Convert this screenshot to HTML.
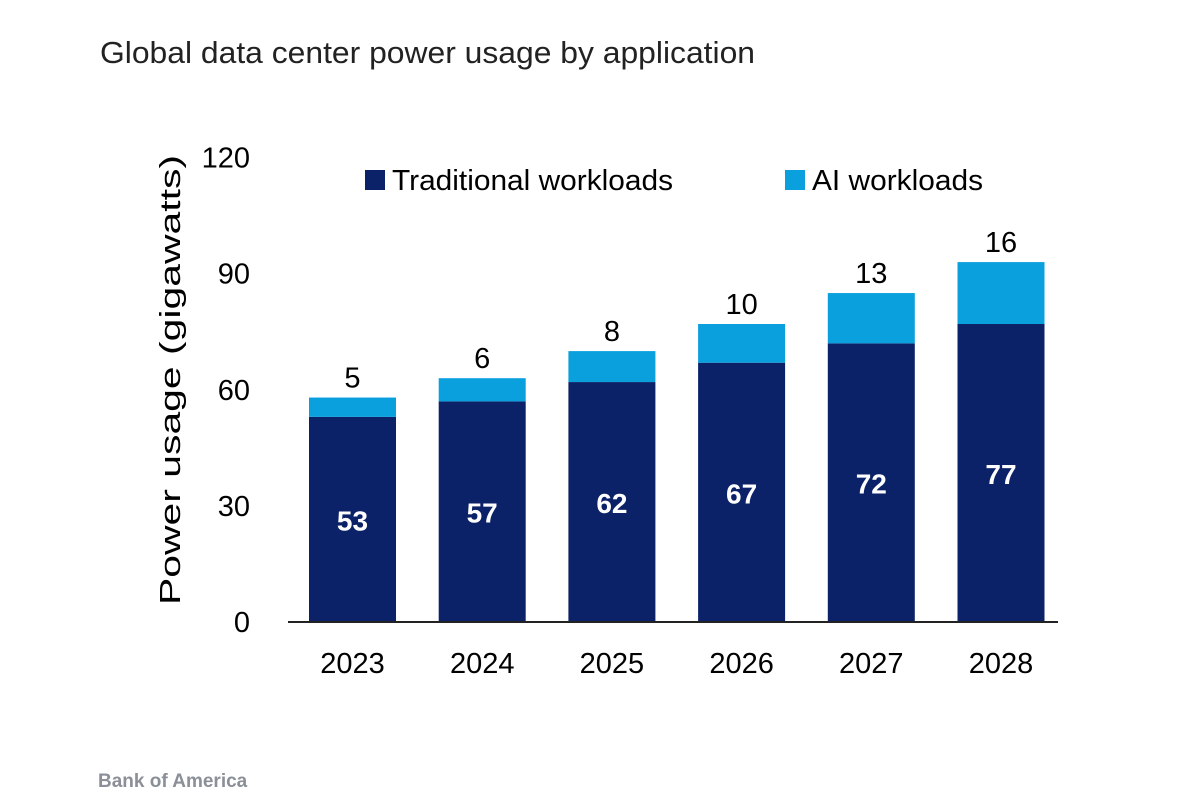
<!DOCTYPE html>
<html><head><meta charset="utf-8"><style>
body{margin:0;background:#fff;width:1186px;height:805px;overflow:hidden;font-family:"Liberation Sans",sans-serif}
</style></head><body>
<svg width="1186" height="805" xmlns="http://www.w3.org/2000/svg">
<text x="100" y="63" font-size="31" fill="#222" textLength="655" lengthAdjust="spacingAndGlyphs">Global data center power usage by application</text>
<text transform="translate(180,380) rotate(-90)" text-anchor="middle" font-size="29" fill="#000" textLength="450" lengthAdjust="spacingAndGlyphs">Power usage (gigawatts)</text>
<rect x="365" y="170" width="20" height="20" fill="#0b2268"/>
<text x="392" y="190" font-size="29" textLength="281" lengthAdjust="spacingAndGlyphs">Traditional workloads</text>
<rect x="785" y="170" width="20" height="20" fill="#0aa0dd"/>
<text x="812" y="190" font-size="29" textLength="171" lengthAdjust="spacingAndGlyphs">AI workloads</text>
<g id="yticks"></g><g id="bars"></g>
<line x1="288" y1="622" x2="1058" y2="622" stroke="#222" stroke-width="2"/>
<text x="98" y="787" font-size="19" font-weight="bold" fill="#8a8f98">Bank of America</text>
</svg>
<script>
const years=["2023","2024","2025","2026","2027","2028"];
const traditional=[53,57,62,67,72,77];
const ai=[5,6,8,10,13,16];
const yTicks=[0,30,60,90,120];
const NS="http://www.w3.org/2000/svg";
const y0=622, sc=3.87, x0=309, step=129.7, bw=87;
const Y=v=>y0-v*sc, X=i=>x0+i*step;
function mk(t,a,txt){const e=document.createElementNS(NS,t);for(const k in a)e.setAttribute(k,a[k]);if(txt!==undefined)e.textContent=txt;return e;}
const yt=document.getElementById('yticks');
yTicks.forEach(v=>{const e=mk('text',{x:250,y:Y(v)+10,'text-anchor':'end','font-size':29},String(v));


yt.appendChild(e);});
const g=document.getElementById('bars');
years.forEach((yr,i)=>{
 const t=traditional[i],a=ai[i];
 const r1=mk('rect',{x:X(i),y:Y(t),width:bw,height:t*sc,fill:'#0b2268'});
 
 
 g.appendChild(r1);
 const r2=mk('rect',{x:X(i),y:Y(t+a),width:bw,height:a*sc,fill:'#0aa0dd'});
 
 
 g.appendChild(r2);
 const l1=mk('text',{x:X(i)+bw/2,y:(Y(t)+y0)/2+11,'text-anchor':'middle','font-size':28,'font-weight':'bold',fill:'#fff'},String(t));
 
 
 g.appendChild(l1);
 const l2=mk('text',{x:X(i)+bw/2,y:Y(t+a)-10,'text-anchor':'middle','font-size':29},String(a));
 
 
 g.appendChild(l2);
 const xl=mk('text',{x:X(i)+bw/2,y:673,'text-anchor':'middle','font-size':29},yr);
 
 
 g.appendChild(xl);
});
</script>
</body></html>
